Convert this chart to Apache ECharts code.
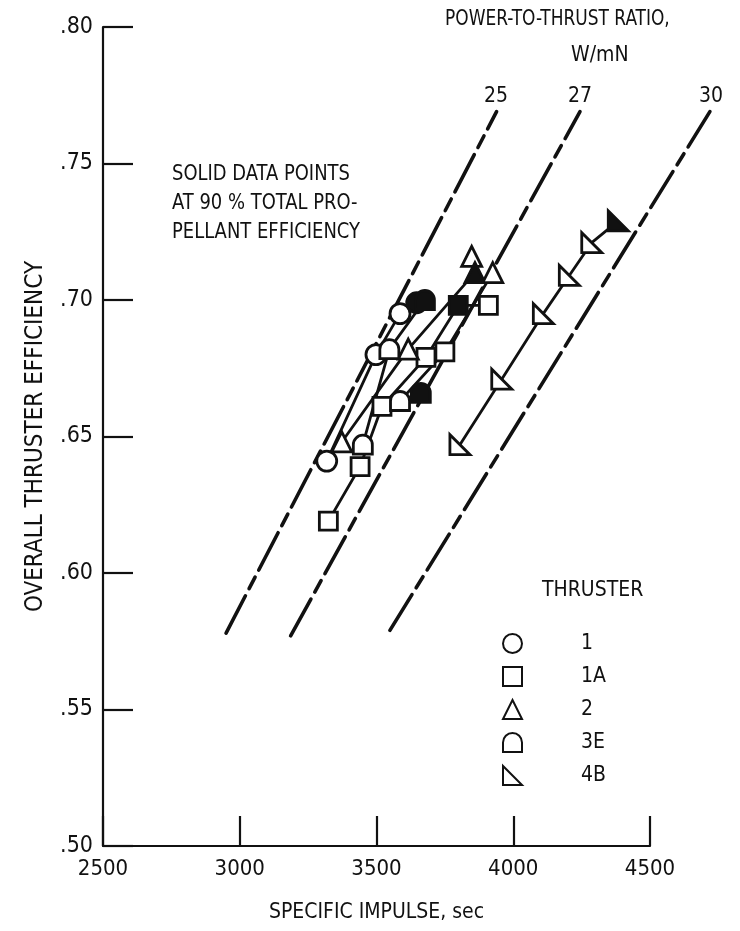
<!DOCTYPE html>
<html><head><meta charset="utf-8">
<script src="https://cdn.jsdelivr.net/npm/echarts@6/dist/echarts.min.js"></script>
<style>html,body{margin:0;padding:0;background:#fff}#c{width:740px;height:931px}</style>
</head><body><div id="c"></div>
<script>
// ---------- data ----------
const xTicks = [2500, 3000, 3500, 4000, 4500];
const yTicks = [0.50, 0.55, 0.60, 0.65, 0.70, 0.75, 0.80];

// power-to-thrust ratio reference lines (W/mN): end points [isp, eff]
const ratioLabels = ['25', '27', '30'];
const ratio25 = [[2950, 0.578], [3939, 0.769]];
const ratio27 = [[3186, 0.577], [4244, 0.769]];
const ratio30 = [[3549, 0.579], [4719, 0.769]];

// thruster data: specific impulse (s), overall efficiency, solid flag
const t1Isp   = [3318, 3498, 3586, 3647];
const t1Eff   = [0.641, 0.680, 0.695, 0.699];
const t1Solid = [0, 0, 0, 1];

const t1aIsp   = [3324, 3440, 3520, 3681, 3750, 3799, 3909];
const t1aEff   = [0.619, 0.639, 0.661, 0.679, 0.681, 0.698, 0.698];
const t1aSolid = [0, 0, 0, 0, 0, 1, 0];

const t2Isp   = [3373, 3616, 3848, 3860, 3925];
const t2Eff   = [0.648, 0.682, 0.716, 0.710, 0.710];
const t2Solid = [0, 0, 0, 1, 0];

const t3eIsp   = [3450, 3547, 3586, 3662, 3677];
const t3eEff   = [0.647, 0.682, 0.663, 0.666, 0.700];
const t3eSolid = [0, 0, 0, 1, 1];

const t4bIsp   = [3805, 3958, 4110, 4205, 4287, 4384];
const t4bEff   = [0.647, 0.671, 0.695, 0.709, 0.721, 0.729];
const t4bSolid = [0, 0, 0, 0, 0, 1];

// connecting curves (indices into each thruster's arrays)
const t1Path  = [0, 1, 2, 3];
const t1aPath = [0, 1, 2, 3, 5, 6];
const t2Path  = [0, 1, 3, 2];
const t3ePath = [0, 1, 4];
const t3ePath2 = [2, 3];
const crossPath = [[3586, 0.663], [3750, 0.681], [3925, 0.710]];
const t4bPath = [0, 1, 2, 3, 4, 5];

// ---------- chart ----------
const FONT = '"DejaVu Sans Condensed", "DejaVu Sans", sans-serif';
const INK = '#111';

const sym3E = 'path://M0,10 L0,5 A5,5 0 0 1 10,5 L10,10 Z';
const sym4B = 'path://M0,0 L0,10 L10,10 Z';

function pts(isp, eff, solid) {
  return isp.map((x, i) => ({
    value: [x, eff[i]],
    itemStyle: solid[i] ? { color: INK } : undefined
  }));
}
function path(isp, eff, idx) { return idx.map(i => [isp[i], eff[i]]); }

function connector(data) {
  return { type: 'line', data, symbol: 'none', silent: true, clip: false, z: 2,
           lineStyle: { color: INK, width: 2.8 }, animation: false };
}
function ratioLine(data) {
  return { type: 'line', data, symbol: 'none', silent: true, clip: false, z: 1,
           xAxisIndex: 1, yAxisIndex: 1,
           lineStyle: { color: INK, width: 3.6, type: [42, 8, 13, 8], cap: 'round' }, animation: false };
}
function scatter(name, symbol, size, isp, eff, solid) {
  return { type: 'scatter', name, symbol, symbolSize: size, data: pts(isp, eff, solid), z: 5, clip: false,
           itemStyle: { color: '#fff', borderColor: INK, borderWidth: 2.8, opacity: 1 }, animation: false };
}
function label(text, x, y, size, sx, extra) {
  return Object.assign({ type: 'text', x, y, scaleX: sx,
    style: Object.assign({ text, font: size + 'px ' + FONT, fill: INK }, extra || {}) });
}

const X_MAX_EXT = 4800; // invisible extended axis for the ratio lines, same px-per-unit scale
const chart = echarts.init(document.getElementById('c'), null, { renderer: 'canvas' });
chart.setOption({
  backgroundColor: '#fff',
  animation: false,
  grid: [
    { left: 103, top: 27, width: 547, height: 819, containLabel: false },
    { left: 103, top: 27, width: 547 * (X_MAX_EXT - 2500) / 2000, height: 819, containLabel: false }
  ],
  xAxis: [{
    type: 'value', min: xTicks[0], max: xTicks[xTicks.length - 1], interval: 500,
    name: 'SPECIFIC IMPULSE, sec', nameLocation: 'middle', nameGap: 56,
    nameTextStyle: { fontFamily: FONT, fontSize: 21, color: INK },
    axisLine: { lineStyle: { color: INK, width: 2.2 } },
    axisTick: { inside: true, length: 30, lineStyle: { color: INK, width: 2.2 } },
    axisLabel: { fontFamily: FONT, fontSize: 22, color: INK, margin: 12, formatter: v => String(v) },
    splitLine: { show: false }
  }, {
    type: 'value', gridIndex: 1, min: 2500, max: X_MAX_EXT, show: false
  }],
  yAxis: [{
    type: 'value', min: yTicks[0], max: yTicks[yTicks.length - 1], interval: 0.05,
    name: 'OVERALL THRUSTER EFFICIENCY', nameLocation: 'middle', nameGap: 55, nameRotate: 90,
    nameTextStyle: { fontFamily: FONT, fontSize: 24, color: INK },
    axisLine: { lineStyle: { color: INK, width: 2.2 } },
    axisTick: { inside: true, length: 30, lineStyle: { color: INK, width: 2.2 } },
    axisLabel: { fontFamily: FONT, fontSize: 23, color: INK, margin: 10,
                 formatter: v => v.toFixed(2).replace(/^0/, '') },
    splitLine: { show: false }
  }, {
    type: 'value', gridIndex: 1, min: 0.5, max: 0.8, show: false
  }],
  legend: {
    orient: 'vertical', left: 497, top: 628, itemWidth: 19, itemHeight: 19, itemGap: 12,
    data: ['1', '1A', '2', '3E', '4B'], selectedMode: false,
    textStyle: { fontFamily: FONT, fontSize: 21, color: INK, padding: [0, 0, 0, 54] }
  },
  graphic: [
    label('POWER-TO-THRUST RATIO,', 445, 9, 21, 0.9),
    label('W/mN', 571, 45, 21, 1),
    label(ratioLabels[0], 484, 86, 21, 1),
    label(ratioLabels[1], 568, 86, 21, 1),
    label(ratioLabels[2], 699, 86, 21, 1),
    label('SOLID DATA POINTS\nAT 90 % TOTAL PRO-\nPELLANT EFFICIENCY', 172, 160, 21, 0.95, { lineHeight: 29 }),
    label('THRUSTER', 542, 580, 21, 1)
  ],
  series: [
    ratioLine(ratio25), ratioLine(ratio27), ratioLine(ratio30),
    connector(path(t1Isp, t1Eff, t1Path)),
    connector(path(t1aIsp, t1aEff, t1aPath)),
    connector(path(t2Isp, t2Eff, t2Path)),
    connector(path(t3eIsp, t3eEff, t3ePath)),
    connector(path(t3eIsp, t3eEff, t3ePath2)),
    connector(crossPath),
    connector(path(t4bIsp, t4bEff, t4bPath)),
    scatter('1', 'circle', 20, t1Isp, t1Eff, t1Solid),
    scatter('1A', 'rect', 18, t1aIsp, t1aEff, t1aSolid),
    scatter('2', 'triangle', 20, t2Isp, t2Eff, t2Solid),
    scatter('3E', sym3E, 19, t3eIsp, t3eEff, t3eSolid),
    scatter('4B', sym4B, 20, t4bIsp, t4bEff, t4bSolid)
  ]
});
</script>
</body></html>
